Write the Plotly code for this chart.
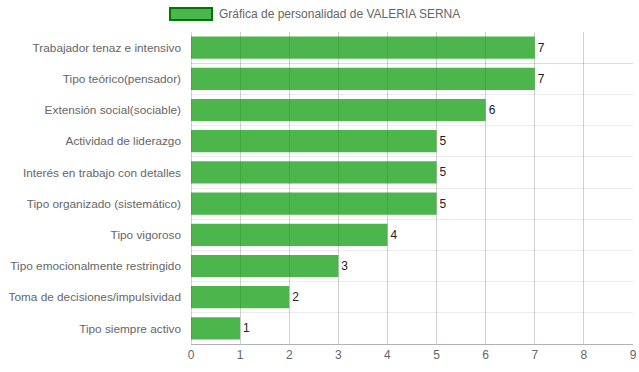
import plotly.graph_objects as go

categories = [
    "Trabajador tenaz e intensivo",
    "Tipo teórico(pensador)",
    "Extensión social(sociable)",
    "Actividad de liderazgo",
    "Interés en trabajo con detalles",
    "Tipo organizado (sistemático)",
    "Tipo vigoroso",
    "Tipo emocionalmente restringido",
    "Toma de decisiones/impulsividad",
    "Tipo siempre activo",
]
values = [7, 7, 6, 5, 5, 5, 4, 3, 2, 1]
series_name = "Gráfica de personalidad de VALERIA SERNA"
x_ticks = list(range(0, 10))

font = "Liberation Sans, Arial, sans-serif"

fig = go.Figure()
fig.add_trace(go.Bar(
    x=values, y=categories, orientation="h",
    name=series_name,
    marker=dict(color="rgba(0,150,0,0.7)", line=dict(width=0)),
    text=[str(v) for v in values],
    textposition="outside",
    textfont=dict(family=font, size=12, color="#222"),
    cliponaxis=False,
    showlegend=False,
    hoverinfo="x+y",
))

fig.update_layout(
    width=639, height=372,
    margin=dict(l=191, r=6, t=32, b=28, autoexpand=False),
    paper_bgcolor="white", plot_bgcolor="white",
    font=dict(family=font, size=12, color="#666"),
    bargap=0.29,
    xaxis=dict(
        range=[0, 9], tickvals=x_ticks, showgrid=True,
        gridcolor="rgba(0,0,0,0.18)", gridwidth=1,
        zeroline=True, zerolinecolor="rgba(0,0,0,0.18)", zerolinewidth=1,
        showline=True, linecolor="rgba(0,0,0,0.3)", linewidth=1,
        ticks="", tickfont=dict(size=12, color="#666"),
        automargin=False, ticklabeloverflow="allow",
        fixedrange=True,
    ),
    yaxis=dict(
        categoryorder="array", categoryarray=categories,
        autorange="reversed",
        tickson="boundaries", showgrid=True, gridcolor="rgba(0,0,0,0.07)",
        ticks="", ticklabelstandoff=9,
        showline=False, tickfont=dict(size=11.8, color="#666"),
        automargin=False,
        fixedrange=True,
    ),
    shapes=[
        dict(type="rect", xref="paper", yref="paper",
             x0=(170 - 191) / 442, x1=(212 - 191) / 442,
             y0=(344 - 20) / 312, y1=(344 - 8) / 312,
             fillcolor="rgba(0,150,0,0.7)",
             line=dict(color="rgb(0,120,0)", width=2)),
    ],
    annotations=[
        dict(text=series_name, xref="paper", yref="paper",
             x=(217 - 191) / 442, y=(344 - 14) / 312,
             xanchor="left", yanchor="middle", showarrow=False,
             font=dict(family=font, size=12, color="#666")),
    ],
)

fig.write_html(
    "out.html",
    config={"displayModeBar": False},
    post_script="document.body.style.margin='0';document.body.style.overflow='hidden';",
)
